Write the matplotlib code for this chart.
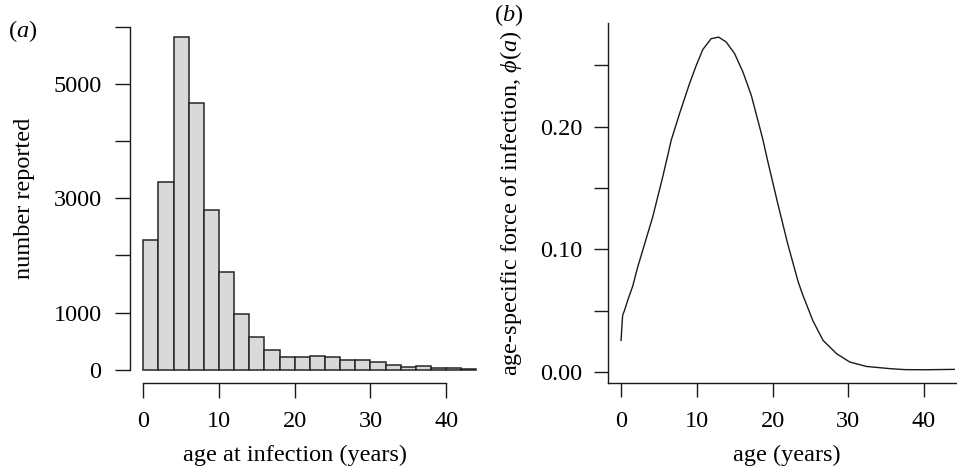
import numpy as np
import matplotlib
matplotlib.use('Agg')
import matplotlib.pyplot as plt

plt.rcParams['font.family'] = ['Liberation Serif', 'DejaVu Serif']
plt.rcParams['mathtext.fontset'] = 'custom'
plt.rcParams['mathtext.rm'] = 'Liberation Serif'
plt.rcParams['mathtext.it'] = 'Liberation Serif:italic'
plt.rcParams['font.size'] = 17.5

# (a) histogram of reported cases, 2-year bins
bin_edges = list(range(0, 46, 2))
counts = [2270, 3290, 5830, 4670, 2800, 1710, 970, 570, 350, 230, 220,
          240, 220, 165, 170, 135, 75, 52, 58, 35, 23, 17]

# (b) estimated age-specific force of infection
ages = [0, 0.21, 0.44, 0.88, 1.54, 2.2, 2.86, 3.52, 4.18, 4.84, 5.5, 6.17,
        6.62, 7.72, 9.04, 9.93, 10.8, 11.9, 12.9, 13.9, 15.0, 16.1,
        17.2, 18.7, 19.4, 20.7, 22.0, 23.4, 24.02, 25.36, 26.68, 28.46,
        30.2, 32.4, 35.5, 37.5, 40.0, 44.0]
phi = [0.0258, 0.0462, 0.0500, 0.0585, 0.0700, 0.0856, 0.0992, 0.1128,
       0.1264, 0.1427, 0.159, 0.1767, 0.1889, 0.2106, 0.2351,
       0.2500, 0.2630, 0.2718, 0.2731, 0.2690, 0.2596, 0.2446, 0.2256,
       0.1903, 0.1712, 0.1373, 0.1047, 0.0734, 0.0625, 0.0415, 0.0258,
       0.0150, 0.0082, 0.0046, 0.0028, 0.0020, 0.0019, 0.0022]

W, H = 957, 468
fig = plt.figure(figsize=(W / 100, H / 100), dpi=100)

def px_axes(x0, y0, x1, y1):
    return fig.add_axes([x0 / W, 1 - y1 / H, (x1 - x0) / W, (y1 - y0) / H])

ink = '#1a1a1a'

# ---- panel (a)
ax1 = px_axes(130, 23.3, 489.7, 383)
ax1.bar(bin_edges[:-1], counts, width=2, align='edge', color='#d9d9d9',
        edgecolor='#262626', linewidth=1.1)
ax1.set_xlim(-1.76, 45.76)
ax1.set_ylim(-233, 6061)
for s in ['top', 'right']:
    ax1.spines[s].set_visible(False)
ax1.spines['left'].set_bounds(0, 6000)
ax1.spines['bottom'].set_bounds(0, 40)
ax1.set_xticks([0, 10, 20, 30, 40])
ax1.set_yticks([0, 1000, 2000, 3000, 4000, 5000, 6000])
ax1.set_yticklabels(['0', '1000', '', '3000', '', '5000', ''])
ax1.tick_params(axis='y', length=10.5, width=1.0, pad=10, color=ink)
ax1.tick_params(axis='x', length=10.5, width=1.0, pad=10, color=ink)
ax1.patch.set_visible(False)

# ---- panel (b)
ax2 = px_axes(607.7, 23, 967.6, 383)
ax2.plot(ages, phi, color=ink, linewidth=1.0)
ax2.set_xlim(-1.76, 45.76)
ax2.set_ylim(-0.0089, 0.2846)
for s in ['top', 'right']:
    ax2.spines[s].set_visible(False)
ax2.set_xticks([0, 10, 20, 30, 40])
ax2.set_yticks([0, 0.05, 0.10, 0.15, 0.20, 0.25])
ax2.set_yticklabels(['0.00', '', '0.10', '', '0.20', ''])
ax2.tick_params(axis='y', length=10, width=1.0, pad=8, color=ink)
ax2.tick_params(axis='x', length=10, width=1.0, pad=10, color=ink)
ax2.patch.set_visible(False)

for ax in (ax1, ax2):
    for s in ['left', 'bottom']:
        ax.spines[s].set_linewidth(1.0)
        ax.spines[s].set_color(ink)

# ---- labels
fig.text(295 / W, 1 - 455 / H, 'age at infection (years)', ha='center', va='center')
fig.text(25 / W, 1 - 198 / H, 'number reported', rotation=90, ha='center', va='center')
fig.text(787 / W, 1 - 455 / H, 'age (years)', ha='center', va='center')
fig.text(511 / W, 1 - 203 / H, r'age-specific force of infection, $\phi(a)$',
         rotation=90, ha='center', va='center')
fig.text(23 / W, 1 - 31 / H, r'($a$)', ha='center', va='center')
fig.text(509 / W, 1 - 15 / H, r'($b$)', ha='center', va='center')

plt.savefig('out.png', dpi=100)
